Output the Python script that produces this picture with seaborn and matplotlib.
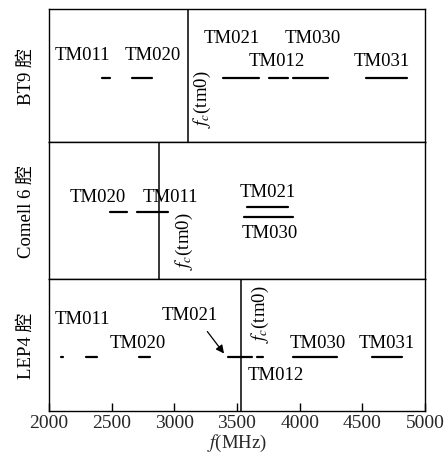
import matplotlib
matplotlib.use('Agg')
import matplotlib.pyplot as plt
import seaborn as sns
import pandas as pd
import numpy as np

sns.set_theme(style='white')
plt.rcParams['font.family'] = ['Liberation Serif', 'Noto Sans CJK SC']
plt.rcParams['mathtext.fontset'] = 'stix'
plt.rcParams['xtick.direction'] = 'in'

# cavities (panel titles on the left)
cavities = ['BT9 腔', 'Comell 6 腔', 'LEP4 腔']
# cutoff frequency fc(tm0) for each cavity, MHz
cutoffs = [3110, 2880, 3530]

# mode bands: (cavity index, f_start, f_end, level in panel)
seg_cavity = [0, 0, 0, 0, 0, 0,
              1, 1, 1, 1,
              2, 2, 2, 2, 2, 2, 2]
seg_f0 = [2425, 2665, 3390, 3755, 3945, 4525,
          2485, 2700, 3580, 3555,
          2100, 2295, 2720, 3425, 3660, 3945, 4580]
seg_f1 = [2490, 2820, 3675, 3905, 4225, 4855,
          2620, 2950, 3905, 3945,
          2110, 2385, 2805, 3620, 3705, 4300, 4815]
seg_level = [0.48, 0.48, 0.48, 0.48, 0.48, 0.48,
             0.49, 0.49, 0.525, 0.455,
             0.41, 0.41, 0.41, 0.41, 0.41, 0.41, 0.41]

# mode labels: (cavity index, text, f, level)
lab_cavity = [0, 0, 0, 0, 0, 0,
              1, 1, 1, 1,
              2, 2, 2, 2, 2, 2]
lab_text = ['TM011', 'TM020', 'TM021', 'TM030', 'TM012', 'TM031',
            'TM020', 'TM011', 'TM021', 'TM030',
            'TM011', 'TM020', 'TM021', 'TM012', 'TM030', 'TM031']
lab_f = [2270, 2830, 3460, 4105, 3820, 4655,
         2390, 2965, 3745, 3765,
         2270, 2710, 3125, 3805, 4140, 4695]
lab_level = [0.66, 0.66, 0.79, 0.79, 0.61, 0.61,
             0.60, 0.60, 0.64, 0.34,
             0.70, 0.52, 0.73, 0.28, 0.52, 0.52]

# where the fc(tm0) label sits (f, level)
fc_lab_f = [3225, 3085, 3690]
fc_lab_level = [0.33, 0.28, 0.74]

xticks = [2000, 2500, 3000, 3500, 4000, 4500, 5000]

rows = []
for k in range(len(seg_f0)):
    rows.append((seg_cavity[k], k, seg_f0[k], seg_level[k]))
    rows.append((seg_cavity[k], k, seg_f1[k], seg_level[k]))
segs = pd.DataFrame(rows, columns=['cavity', 'seg', 'f', 'y'])

fig = plt.figure(figsize=(4.48, 4.60), dpi=100)
boxes = [[0.109, 0.689, 0.840, 0.289],
         [0.109, 0.391, 0.840, 0.298],
         [0.109, 0.104, 0.840, 0.287]]

for i, name in enumerate(cavities):
    ax = fig.add_axes(boxes[i])
    d = segs[segs['cavity'] == i]
    sns.lineplot(data=d, x='f', y='y', units='seg', estimator=None,
                 color='black', lw=1.6, ax=ax, legend=False)
    ax.axvline(cutoffs[i], color='black', lw=1.1)
    for j in range(len(lab_text)):
        if lab_cavity[j] == i:
            ax.text(lab_f[j], lab_level[j], lab_text[j], ha='center',
                    va='center', fontsize=13.5, color='black')
    ax.text(fc_lab_f[i], fc_lab_level[i], r'$f_c$(tm0)', rotation=90,
            ha='center', va='center', fontsize=13.5, color='black')
    ax.set_xlim(2000, 5000)
    ax.set_ylim(0, 1)
    ax.set_yticks([])
    ax.set_ylabel(name, fontsize=13.5, labelpad=10, color='black')
    ax.set_xlabel('')
    for s in ax.spines.values():
        s.set_color('black')
        s.set_linewidth(1.0)
    if i == 2:
        ax.set_xticks(xticks)
        ax.set_xticklabels([str(t) for t in xticks], fontsize=14)
        ax.tick_params(axis='x', direction='in', length=6, width=1.0,
                       color='black', bottom=True, pad=2)
        ax.set_xlabel(r'$f$(MHz)', fontsize=13.5, labelpad=1)
        ax.annotate('', xy=(3410, 0.42), xytext=(3250, 0.62),
                    arrowprops=dict(arrowstyle='-|>', color='black', lw=0.9))
    else:
        ax.set_xticks([])

fig.savefig('out.png', dpi=100)
